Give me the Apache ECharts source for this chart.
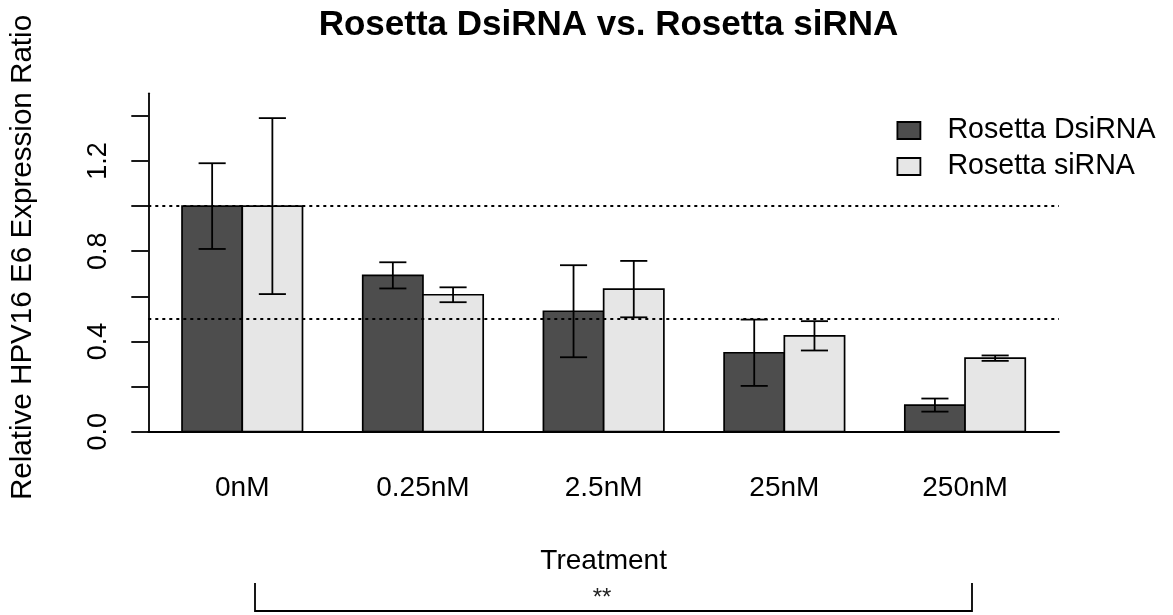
<!DOCTYPE html>
<html>
<head>
<meta charset="utf-8">
<script src="https://cdn.jsdelivr.net/npm/echarts@6/dist/echarts.min.js"></script>
<style>
  html, body { margin: 0; padding: 0; background: #fff; }
  #chart { width: 1173px; height: 615px; }
</style>
</head>
<body>
<div id="chart"></div>
<script>
// ---- data ----
const categories = ['0nM', '0.25nM', '2.5nM', '25nM', '250nM'];
const dsiValues = [1.00, 0.693, 0.534, 0.350, 0.118];
const dsiErrors = [0.190, 0.058, 0.204, 0.147, 0.029];
const siValues  = [1.00, 0.607, 0.632, 0.425, 0.326];
const siErrors  = [0.390, 0.033, 0.125, 0.065, 0.012];
const yTickValues  = [0, 0.2, 0.4, 0.6, 0.8, 1.0, 1.2, 1.4];
const yLabelValues = [0, 0.4, 0.8, 1.2];
const refLines = [1.0, 0.5];
const seriesNames = ['Rosetta DsiRNA', 'Rosetta siRNA'];

const FONT = 'Liberation Sans, Arial, sans-serif';
const BAR_W = 1 / 3;      // bar width in group units
const CAP_W = 0.15;       // error cap width in group units

function barSeries(name, vals, errs, color, side) {
  return {
    type: 'custom',
    name: name,
    z: 2,
    itemStyle: { color: color },
    encode: { x: 0, y: 1 },
    data: vals.map((v, i) => [i, v, errs[i]]),
    renderItem: function (params, api) {
      const i = api.value(0), v = api.value(1), e = api.value(2);
      const x0 = side < 0 ? i - BAR_W : i;
      const x1 = x0 + BAR_W;
      const xc = (x0 + x1) / 2;
      const pTop = api.coord([x0, v]);
      const pBot = api.coord([x1, 0]);
      const hi = api.coord([xc, v + e]);
      const lo = api.coord([xc, v - e]);
      const half = api.size([CAP_W, 0])[0] / 2;
      const ls = { stroke: '#000', lineWidth: 1.8 };
      return {
        type: 'group',
        children: [
          { type: 'rect', shape: { x: pTop[0], y: pTop[1], width: pBot[0] - pTop[0], height: pBot[1] - pTop[1] },
            style: { fill: color, stroke: '#000', lineWidth: 1.7 } },
          { type: 'line', z2: 5, shape: { x1: hi[0], y1: hi[1], x2: lo[0], y2: lo[1] }, style: ls },
          { type: 'line', z2: 5, shape: { x1: hi[0] - half, y1: hi[1], x2: hi[0] + half, y2: hi[1] }, style: ls },
          { type: 'line', z2: 5, shape: { x1: lo[0] - half, y1: lo[1], x2: lo[0] + half, y2: lo[1] }, style: ls }
        ]
      };
    }
  };
}

const chart = echarts.init(document.getElementById('chart'), null, { renderer: 'canvas' });
chart.setOption({
  animation: false,
  backgroundColor: '#fff',
  textStyle: { fontFamily: FONT },
  title: {
    text: 'Rosetta DsiRNA vs. Rosetta siRNA',
    left: 603.5, textAlign: 'center', top: 3,
    textStyle: { fontFamily: FONT, fontSize: 35, fontWeight: 'bold', color: '#000' }
  },
  legend: {
    orient: 'vertical',
    left: 896.5, top: 116, padding: 0,
    itemWidth: 23, itemHeight: 17, itemGap: 7,
    textStyle: { fontFamily: FONT, fontSize: 28.6, color: '#000', padding: [0, 0, 0, 22] },
    data: [
      { name: seriesNames[0], icon: 'rect', itemStyle: { color: '#4D4D4D', borderColor: '#000', borderWidth: 1.8 } },
      { name: seriesNames[1], icon: 'rect', itemStyle: { color: '#E6E6E6', borderColor: '#000', borderWidth: 1.8 } }
    ],
    selectedMode: false
  },
  grid: { left: 148.3, right: 114, top: 93.3, bottom: 183.3, containLabel: false },
  xAxis: {
    type: 'value',
    min: -0.52, max: 4.52,
    name: 'Treatment',
    nameLocation: 'middle',
    nameGap: 116,
    nameTextStyle: { fontFamily: FONT, fontSize: 28, color: '#000' },
    axisLine: { show: true, onZero: false, lineStyle: { color: '#000', width: 1.8 } },
    axisTick: { show: false },
    splitLine: { show: false },
    axisLabel: {
      customValues: [0, 1, 2, 3, 4],
      formatter: v => categories[Math.round(v)],
      margin: 43,
      fontFamily: FONT, fontSize: 28, color: '#000'
    }
  },
  yAxis: {
    type: 'value',
    min: 0, max: 1.5,
    name: 'Relative HPV16 E6 Expression Ratio',
    nameLocation: 'middle',
    nameRotate: 90,
    nameGap: 110,
    nameTextStyle: { fontFamily: FONT, fontSize: 29.6, color: '#000', padding: [0, 0, 0, 10] },
    axisLine: { show: true, onZero: false, lineStyle: { color: '#000', width: 1.8 } },
    axisTick: { show: true, customValues: yTickValues, length: 17, lineStyle: { color: '#000', width: 1.8 } },
    splitLine: { show: false },
    axisLabel: {
      customValues: yLabelValues,
      rotate: 90,
      margin: 36,
      formatter: v => Number(v).toFixed(1),
      fontFamily: FONT, fontSize: 27, color: '#000'
    }
  },
  series: [
    barSeries(seriesNames[0], dsiValues, dsiErrors, '#4D4D4D', -1),
    barSeries(seriesNames[1], siValues, siErrors, '#E6E6E6', 1),
    {
      type: 'line', name: 'ref', data: [], z: 10, silent: true,
      markLine: {
        silent: true, symbol: 'none', label: { show: false },
        lineStyle: { color: '#000', type: [3, 4], width: 2 },
        data: refLines.map(v => ({ yAxis: v }))
      }
    }
  ],
  graphic: [
    { type: 'polyline', silent: true,
      shape: { points: [[255, 583], [255, 611], [972, 611], [972, 583]] },
      style: { stroke: '#000', lineWidth: 1.8, fill: null } },
    { type: 'text', silent: true, x: 602, y: 598,
      style: { text: '**', fontFamily: FONT, fontSize: 24, fill: '#222', align: 'center', verticalAlign: 'middle' } }
  ]
});
</script>
</body>
</html>
